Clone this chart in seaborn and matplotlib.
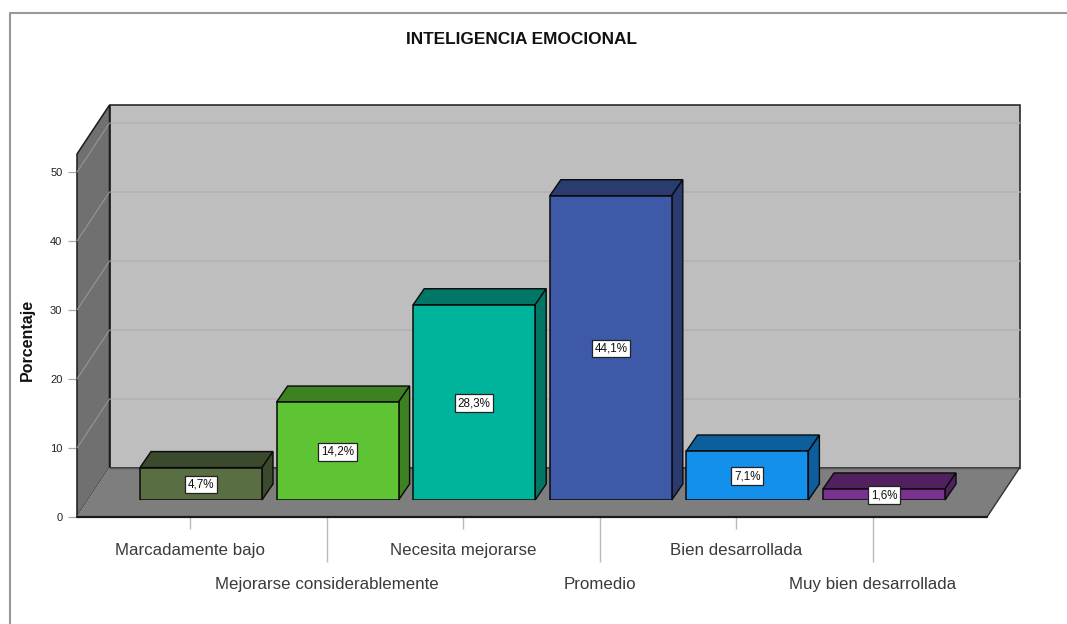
import matplotlib
matplotlib.use("Agg")
import matplotlib.pyplot as plt
from matplotlib.lines import Line2D
from matplotlib.colors import to_rgb
import seaborn as sns

categories = ["Marcadamente bajo", "Mejorarse considerablemente", "Necesita mejorarse",
              "Promedio", "Bien desarrollada", "Muy bien desarrollada"]
values = [4.7, 14.2, 28.3, 44.1, 7.1, 1.6]
labels = ["4,7%", "14,2%", "28,3%", "44,1%", "7,1%", "1,6%"]
colors = ["#5A6E44", "#5EC434", "#00B39B", "#3E59A8", "#1290EC", "#7A3290"]
y_ticks = [0, 10, 20, 30, 40, 50]

sns.set_theme(style="white")
plt.rcParams["font.family"] = ["Liberation Sans", "DejaVu Sans"]

W, H = 1067, 624
PX_PER_CAT = 136.6
PX_PER_UNIT = 6.9
fig = plt.figure(figsize=(W / 100, H / 100), dpi=100, facecolor="white")


def px_axes(left, bottom_px, right, top_px):
    return [left / W, (H - bottom_px) / H, (right - left) / W, (bottom_px - top_px) / H]


xlim = ((77 - 190) / PX_PER_CAT, (987 - 190) / PX_PER_CAT)
ylim = (0, (517 - 155) / PX_PER_UNIT)

ax = fig.add_axes(px_axes(77, 517, 987, 155), facecolor="none")
ax.set_xlim(xlim)
ax.set_ylim(ylim)
for s in ax.spines.values():
    s.set_visible(False)

# depth of the box, in data units
DX, DY = 32.5 / PX_PER_CAT, 49 / PX_PER_UNIT
x0, x1 = xlim
top = (468 - 105) / PX_PER_UNIT
EDGE = "#1a1a1a"

# back wall, left wall, floor
ax.fill([x0 + DX, x1 + DX, x1 + DX, x0 + DX], [DY, DY, DY + top, DY + top],
        fc="#BEBEBE", ec=EDGE, lw=1.1, clip_on=False, zorder=1)
ax.fill([x0, x0 + DX, x0 + DX, x0], [0, DY, DY + top, top],
        fc="#707070", ec=EDGE, lw=1.1, clip_on=False, zorder=2)
ax.fill([x0, x1, x1 + DX, x0 + DX], [0, 0, DY, DY],
        fc="#7E7E7E", ec="none", clip_on=False, zorder=2)
ax.plot([x0 + DX, x1 + DX], [DY, DY], color="#555555", lw=1.0, clip_on=False, zorder=3)
ax.plot([x1, x1 + DX], [0, DY], color="#333333", lw=1.0, clip_on=False, zorder=3)
ax.plot([x0, x1], [0, 0], color=EDGE, lw=1.6, clip_on=False, zorder=4)
ax.plot([x0, x0 + DX], [0, DY], color="#959595", lw=0.6, clip_on=False, zorder=3)
for v in y_ticks[1:]:
    ax.plot([x0, x0 + DX], [v, v + DY], color="#959595", lw=0.8, clip_on=False, zorder=3)
    ax.plot([x0 + DX, x1 + DX], [v + DY, v + DY], color="#B2B2B2", lw=1.1, clip_on=False, zorder=1.5)

ax.set_yticks(y_ticks)
ax.set_xticks(range(len(categories)))
ax.set_xticklabels(categories)
ax.tick_params(axis="y", left=True, length=6.5, width=0.9, color="#AAAAAA", pad=4, labelsize=8.0, labelcolor="#222222")
ax.tick_params(axis="x", bottom=True, width=1.0, color="#BBBBBB", pad=10.5, labelsize=12.2, labelcolor="#3A3A3A")
for i, tick in enumerate(ax.xaxis.get_major_ticks()):
    length = 8.3 if i % 2 == 0 else 32.5
    tick._apply_params(size=length)
ax.set_ylabel("Porcentaje", fontsize=11.5, fontweight="bold", color="#111111", labelpad=0)
ax.yaxis.set_label_coords(-42 / 910, 0.49)
ax.set_xlabel("")

# bars sit mid-way across the floor: same scales, shifted plane
ax_b = fig.add_axes(px_axes(77 + 11, 517 - 17, 987 + 11, 155 - 17), facecolor="none")
sns.barplot(x=categories, y=values, hue=categories, palette=colors, dodge=False, legend=False,
            width=122 / PX_PER_CAT, saturation=1, edgecolor="#0a0a0a", linewidth=1.1, ax=ax_b, zorder=5)
ax_b.set_xlim(xlim)
ax_b.set_ylim(ylim)
ax_b.axis("off")

bx, by = 11 / PX_PER_CAT, 16 / PX_PER_UNIT
bars = sorted([p for p in ax_b.patches if p.get_height() > 0], key=lambda p: p.get_x())
for bar, col, lab in zip(bars, colors, labels):
    l, w, h = bar.get_x(), bar.get_width(), bar.get_height()
    dark = tuple(c * 0.66 for c in to_rgb(col))
    ax_b.fill([l, l + w, l + w + bx, l + bx], [h, h, h + by, h + by],
              fc=dark, ec="#0a0a0a", lw=1.0, clip_on=False, zorder=4)
    ax_b.fill([l + w, l + w + bx, l + w + bx, l + w], [0, by, h + by, h],
              fc=dark, ec="#0a0a0a", lw=1.0, clip_on=False, zorder=4)
    ax_b.text(l + w / 2, h / 2 - 0.1, lab, ha="center", va="center", fontsize=8.4, color="#111111", zorder=8,
              bbox=dict(boxstyle="square,pad=0.24", fc="white", ec="#222222", lw=0.9))

fig.text(522 / W, 1 - 40 / H, "INTELIGENCIA EMOCIONAL", ha="center", va="center",
         fontsize=12.4, fontweight="bold", color="#111111")

# outer frame
fig.add_artist(Line2D([10 / W, 10 / W, 1], [0, 1 - 12.5 / H, 1 - 12.5 / H], color="#999999", lw=1.5))

fig.savefig("out.png", dpi=100, facecolor="white")
